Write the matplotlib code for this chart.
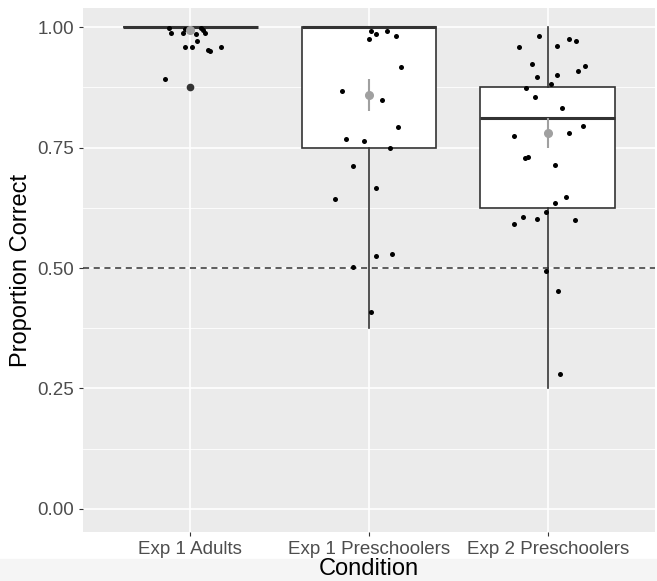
import numpy as np
import matplotlib.pyplot as plt
from matplotlib.patches import Rectangle

plt.rcParams['font.family'] = ['Liberation Sans', 'DejaVu Sans']

# categorias
conds = ['Exp 1 Adults', 'Exp 1 Preschoolers', 'Exp 2 Preschoolers']

# resumen de cajas
q1 = [1.0, 0.75, 0.625]
med = [1.0, 1.0, 0.8125]
q3 = [1.0, 1.0, 0.875]
wlo = [1.0, 0.375, 0.25]
whi = [1.0, 1.0, 1.0]
outliers = [[0.875], [], []]

# media y error estandar
means = [0.995, 0.860, 0.781]
err_lo = [0.992, 0.826, 0.750]
err_hi = [0.998, 0.893, 0.812]

# puntos (valor, desplazamiento horizontal de jitter)
y_adults = [0.999, 0.988, 0.988, 0.996, 0.999, 0.995, 0.988, 0.985, 0.971,
            0.959, 0.959, 0.953, 0.950, 0.960, 0.893]
j_adults = [-0.12, -0.11, -0.04, -0.03, 0.06, 0.07, 0.08, 0.03, 0.04,
            -0.03, 0.01, 0.10, 0.11, 0.17, -0.14]

y_exp1 = [0.992, 0.986, 0.993, 0.976, 0.982, 0.918, 0.867, 0.849, 0.793,
          0.768, 0.763, 0.749, 0.712, 0.666, 0.643, 0.525, 0.529, 0.503, 0.409]
j_exp1 = [0.01, 0.04, 0.10, 0.00, 0.15, 0.18, -0.15, 0.07, 0.16,
          -0.13, -0.03, 0.12, -0.09, 0.04, -0.19, 0.04, 0.13, -0.09, 0.01]

y_exp2 = [0.982, 0.976, 0.971, 0.958, 0.961, 0.924, 0.920, 0.910, 0.896, 0.900,
          0.882, 0.873, 0.856, 0.832, 0.796, 0.775, 0.780, 0.729, 0.730, 0.713,
          0.648, 0.636, 0.617, 0.607, 0.602, 0.591, 0.600, 0.494, 0.452, 0.281]
j_exp2 = [-0.05, 0.12, 0.16, -0.16, 0.05, -0.09, 0.21, 0.17, -0.06, 0.05,
          0.02, -0.12, -0.07, 0.08, 0.20, -0.19, 0.12, -0.13, -0.11, 0.04,
          0.10, 0.04, -0.01, -0.14, -0.06, -0.19, 0.15, -0.01, 0.06, 0.07]

ys = [y_adults, y_exp1, y_exp2]
js = [j_adults, j_exp1, j_exp2]

fig = plt.figure(figsize=(6.57, 5.81), dpi=100)
ax = fig.add_axes([83/657, 1-532/581, 572/657, 524/581])
ax.set_facecolor('#EBEBEB')
ax.set_zorder(2)

# sombra de la captura abajo
fig.patches.append(Rectangle((0, 0), 1, 22/581, transform=fig.transFigure,
                             color='#F5F5F5', zorder=0))

pos = np.arange(1, 4)

# rejilla
for v in [0.125, 0.375, 0.625, 0.875]:
    ax.axhline(v, color='white', lw=0.6, zorder=0)
for v in [0, 0.25, 0.5, 0.75, 1.0]:
    ax.axhline(v, color='white', lw=1.2, zorder=0)
for p in pos:
    ax.axvline(p, color='white', lw=1.2, zorder=0)

stats = []
for i in range(3):
    stats.append(dict(med=med[i], q1=q1[i], q3=q3[i], whislo=wlo[i],
                      whishi=whi[i], fliers=outliers[i]))
ax.bxp(stats, positions=pos, widths=0.755, patch_artist=True, showcaps=False,
       boxprops=dict(facecolor='white', edgecolor='#333333', lw=1.2),
       medianprops=dict(color='#333333', lw=2.2),
       whiskerprops=dict(color='#333333', lw=1.2),
       flierprops=dict(marker='o', markerfacecolor='#333333', markeredgecolor='#333333',
                       markersize=4.5),
       zorder=2)

# linea de azar
ax.axhline(0.5, color='#333333', lw=1.1, ls=(0, (4, 3)), zorder=3)

# puntos
for i in range(3):
    ax.scatter(pos[i] + np.array(js[i]), ys[i], s=13, color='black', zorder=4,
               linewidths=0)

# medias
ax.errorbar(pos, means, yerr=[np.array(means) - np.array(err_lo),
                             np.array(err_hi) - np.array(means)],
            fmt='o', color='#A0A0A0', ms=5.5, elinewidth=1.5, capsize=0, zorder=5)

ax.set_xlim(0.4, 3.6)
ax.set_ylim(-0.048, 1.04)
ax.set_xticks(pos)
ax.set_xticklabels(conds)
ax.set_yticks([0, 0.25, 0.5, 0.75, 1.0])
ax.set_yticklabels(['0.00', '0.25', '0.50', '0.75', '1.00'])
ax.tick_params(axis='both', colors='#333333', labelcolor='#4D4D4D',
               labelsize=13.5, length=3, width=0.8)
for s in ax.spines.values():
    s.set_visible(False)

ax.set_xlabel('Condition', fontsize=17, labelpad=0)
ax.set_ylabel('Proportion Correct', fontsize=17, labelpad=4)

plt.savefig('out.png', dpi=100)
plt.close()
